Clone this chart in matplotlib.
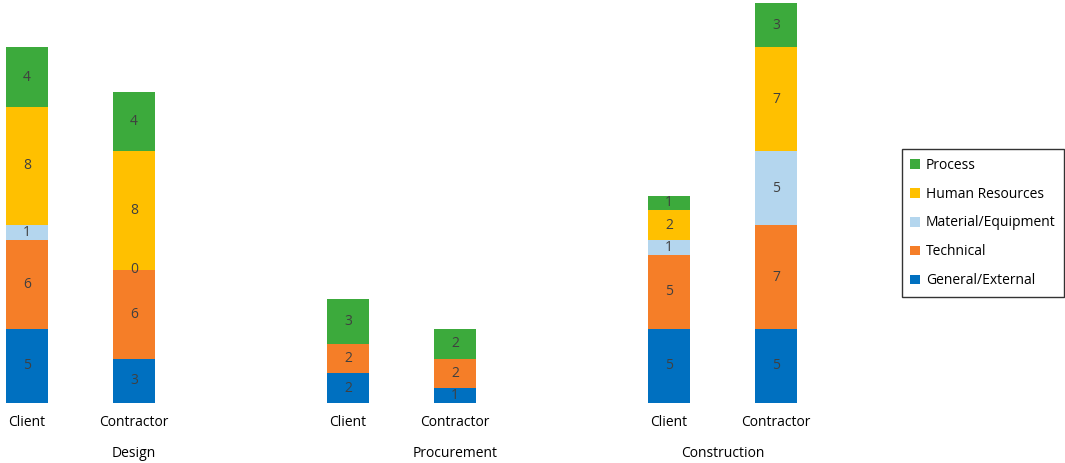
import numpy as np
import matplotlib.pyplot as plt

plt.rcParams['font.family'] = ['Open Sans', 'DejaVu Sans']

# data
phases = ['Design', 'Procurement', 'Construction']
bar_labels = ['Client', 'Contractor', 'Client', 'Contractor', 'Client', 'Contractor']
series = ['General/External', 'Technical', 'Material/Equipment', 'Human Resources', 'Process']
general = [5, 3, 2, 1, 5, 5]
technical = [6, 6, 2, 2, 5, 7]
material = [1, 0, None, None, 1, 5]
human = [8, 8, None, None, 2, 7]
process = [4, 4, 3, 2, 1, 3]

colors = ['#0070C0', '#F57E28', '#B4D6EE', '#FFC000', '#3CAA3C']

fig = plt.figure(figsize=(10.65, 4.63), dpi=100)
ax = fig.add_axes([0, 60 / 463, 830 / 1065, 403 / 463])

x = np.array([0, 1, 3, 4, 6, 7])
bottom = np.zeros(len(x))
handles = []
for name, vals, col in zip(series, [general, technical, material, human, process], colors):
	v = np.array([0 if a is None else a for a in vals], dtype=float)
	b = ax.bar(x, v, width=0.39, bottom=bottom, color=col, label=name)
	handles.append(b)
	for i, a in enumerate(vals):
		if a is None:
			continue
		ax.text(x[i], bottom[i] + v[i] / 2, str(a), ha='center', va='center',
				fontsize=10, color='#404040')
	bottom += v

ax.set_xlim(-0.252, 7.505)
ax.set_ylim(0, 27.2)
ax.set_xticks(x)
ax.set_xticklabels(bar_labels, fontsize=10)
ax.tick_params(axis='x', length=0, pad=9)
ax.set_yticks([])
for s in ax.spines.values():
	s.set_visible(False)

# group labels sit where the reference puts them
group_x = [1, 4, 6.5]
for gx, p in zip(group_x, phases):
	ax.text(gx, -3.4, p, ha='center', va='center', fontsize=10)

leg = fig.legend(handles[::-1], series[::-1], loc='center',
				 bbox_to_anchor=(983 / 1065, 1 - 223 / 463),
				 fontsize=10, frameon=True, fancybox=False,
				 handlelength=0.7, handleheight=0.7, handletextpad=0.4,
				 labelspacing=1.0, borderpad=0.6, borderaxespad=0.3)
leg.get_frame().set_edgecolor('black')
leg.get_frame().set_linewidth(1)

fig.savefig('out.png', dpi=100)
